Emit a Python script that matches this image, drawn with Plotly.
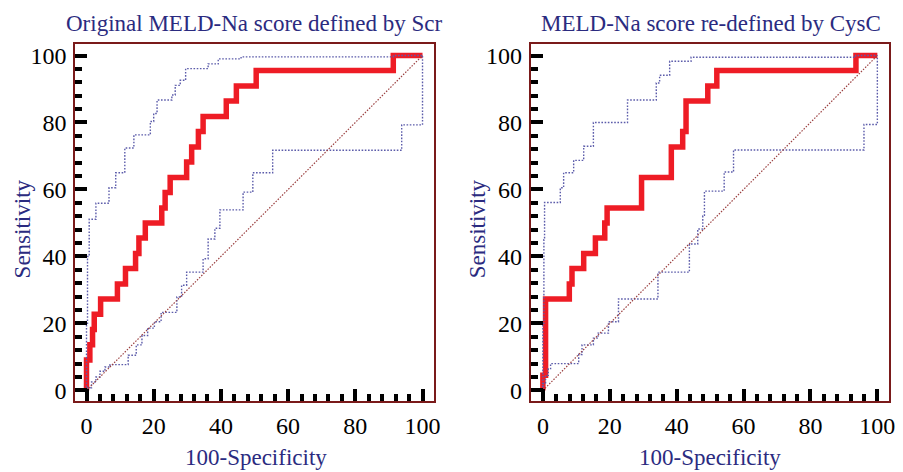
import plotly.graph_objects as go

# ---------------- data (ROC step vertices) ----------------
left_roc_fpr = [0, 1.0, 1.8, 2.3, 4.2, 9.2, 11.6, 14.6, 15.6, 17.5, 22.4, 23.4, 24.9, 29.8, 31.3, 33.3, 34.7, 41.6, 44.6, 50.5, 91.3, 100]
left_roc_tpr = [0, 9.1, 13.6, 18.2, 22.7, 27.3, 31.8, 36.4, 40.9, 45.5, 50.0, 54.5, 59.1, 63.6, 68.2, 72.7, 77.3, 81.8, 86.4, 90.9, 95.5, 100]

left_upper_fpr = [0, 0.3, 0.8, 2.8, 6.7, 8.7, 11.4, 14.1, 19.0, 20.0, 21.0, 25.4, 26.4, 27.9, 29.5, 36.2, 39.2, 46.0, 91.3, 100]
left_upper_tpr = [0, 20, 40, 51.1, 55.9, 60.5, 65.0, 72.4, 76.3, 80.3, 82.7, 86.7, 88.2, 91.1, 92.6, 96.1, 97.5, 99.0, 99.6, 100]

left_lower_fpr = [0, 1.5, 2.8, 4.0, 5.5, 7.0, 12.4, 14.8, 16.5, 18.2, 20.2, 22.2, 26.9, 28.3, 29.8, 34.7, 36.2, 38.2, 39.7, 46.6, 49.5, 55.4, 93.8, 100, 100]
left_lower_tpr = [0, 0.8, 2.5, 4.0, 5.7, 7.0, 7.7, 10.5, 13.6, 16.4, 18.6, 20.5, 23.3, 27.9, 31.4, 35.3, 39.3, 45.2, 48.4, 53.9, 59.2, 65.0, 71.7, 79.3, 100]

right_roc_fpr = [0, 0.8, 7.9, 8.7, 12.2, 15.7, 18.5, 19.2, 29.5, 38.4, 41.8, 42.8, 49.3, 52.0, 93.6, 100]
right_roc_tpr = [0, 4.5, 27.3, 31.8, 36.4, 40.9, 45.5, 50.0, 54.5, 63.6, 72.7, 77.3, 86.4, 90.9, 95.5, 100]

right_upper_fpr = [0, 0.3, 0.5, 5.2, 6.2, 9.2, 12.2, 15.1, 25.3, 33.9, 34.9, 37.9, 44.3, 93.5, 100]
right_upper_tpr = [0, 20, 45, 56.1, 60.5, 65.0, 68.7, 72.9, 80.0, 86.7, 91.8, 94.1, 98.3, 99.5, 100]

right_lower_fpr = [0, 0.8, 1.6, 2.3, 10.7, 11.7, 15.1, 16.5, 19.6, 22.6, 34.4, 43.8, 46.3, 47.8, 48.3, 54.2, 57.0, 96.0, 100, 100]
right_lower_tpr = [0, 2.0, 4.5, 6.5, 8.0, 10.7, 13.6, 15.6, 17.1, 20.5, 27.3, 35.3, 43.7, 48.2, 52.1, 59.5, 65.2, 71.8, 79.4, 100]

diag = [0, 100]

titles = ["Original MELD-Na score defined by Scr", "MELD-Na score re-defined by CysC"]
x_title = "100-Specificity"
y_title = "Sensitivity"

# ---------------- styling ----------------
W, H = 903, 472
RED = "#ee1c25"
CI = "#5c5caa"
DIAG = "#9b4040"
FRAME = "#7a1a1a"
TXT = "#2b2b80"
FONT = "Liberation Serif"

fig = go.Figure()

panels = [
    ("x", "y", left_roc_fpr, left_roc_tpr, left_upper_fpr, left_upper_tpr, left_lower_fpr, left_lower_tpr),
    ("x2", "y2", right_roc_fpr, right_roc_tpr, right_upper_fpr, right_upper_tpr, right_lower_fpr, right_lower_tpr),
]

for xa, ya, rx, ry, ux, uy, lx, ly in panels:
    fig.add_trace(go.Scatter(x=rx, y=ry, mode="lines", line=dict(color=RED, width=5.5, shape="vh"),
                             xaxis=xa, yaxis=ya, showlegend=False))
    fig.add_trace(go.Scatter(x=ux, y=uy, mode="lines", line=dict(color=CI, width=1.4, dash="1.6px,1.6px", shape="vh"),
                             xaxis=xa, yaxis=ya, showlegend=False))
    fig.add_trace(go.Scatter(x=lx, y=ly, mode="lines", line=dict(color=CI, width=1.4, dash="1.6px,1.6px", shape="vh"),
                             xaxis=xa, yaxis=ya, showlegend=False))
    fig.add_trace(go.Scatter(x=diag, y=diag, mode="lines", line=dict(color=DIAG, width=1.2, dash="1.5px,1.5px"),
                             xaxis=xa, yaxis=ya, showlegend=False))

def px_x(p):
    return p / W

def px_y(p):
    return 1 - p / H

axis_common = dict(
    showgrid=False, zeroline=False, showline=True, mirror=True,
    linecolor=FRAME, linewidth=2,
    ticks="inside", ticklen=12, tickwidth=4, tickcolor="black",
    tick0=0, dtick=20,
    minor=dict(ticks="inside", ticklen=7, tickwidth=4, tickcolor="black", tick0=0, dtick=4),
    tickfont=dict(family=FONT, size=24, color="black"),
)

ydom = [px_y(403), px_y(43)]
fig.update_layout(
    width=W, height=H,
    margin=dict(l=0, r=0, t=0, b=0),
    paper_bgcolor="white", plot_bgcolor="white",
    xaxis=dict(domain=[px_x(76), px_x(437)], range=[-3.3, 103.3], anchor="y",
               ticklabelstandoff=3, **axis_common),
    yaxis=dict(domain=ydom, range=[-3.05, 103.55], anchor="x",
               ticklabelstandoff=2, **axis_common),
    xaxis2=dict(domain=[px_x(535), px_x(896)], range=[-3.6, 103.5], anchor="y2",
                ticklabelstandoff=3, **axis_common),
    yaxis2=dict(domain=ydom, range=[-3.05, 103.55], anchor="x2",
                ticklabelstandoff=2, **axis_common),
)

ann_font = dict(family=FONT, size=23, color=TXT)
for cx, title in [(256.5, titles[0]), (716.7, titles[1])]:
    fig.add_annotation(x=px_x(cx), y=px_y(23), xref="paper", yref="paper", text=title,
                       showarrow=False, font=ann_font, xanchor="center", yanchor="middle")
for cx in [257.5, 716]:
    fig.add_annotation(x=px_x(cx), y=px_y(460), xref="paper", yref="paper", text=x_title,
                       showarrow=False, font=ann_font, xanchor="center", yanchor="middle")
for cx in [22.5, 481]:
    fig.add_annotation(x=px_x(cx), y=px_y(230), xref="paper", yref="paper", text=y_title,
                       showarrow=False, font=ann_font, textangle=-90, xanchor="center", yanchor="middle")

fig.write_html("out.html")
